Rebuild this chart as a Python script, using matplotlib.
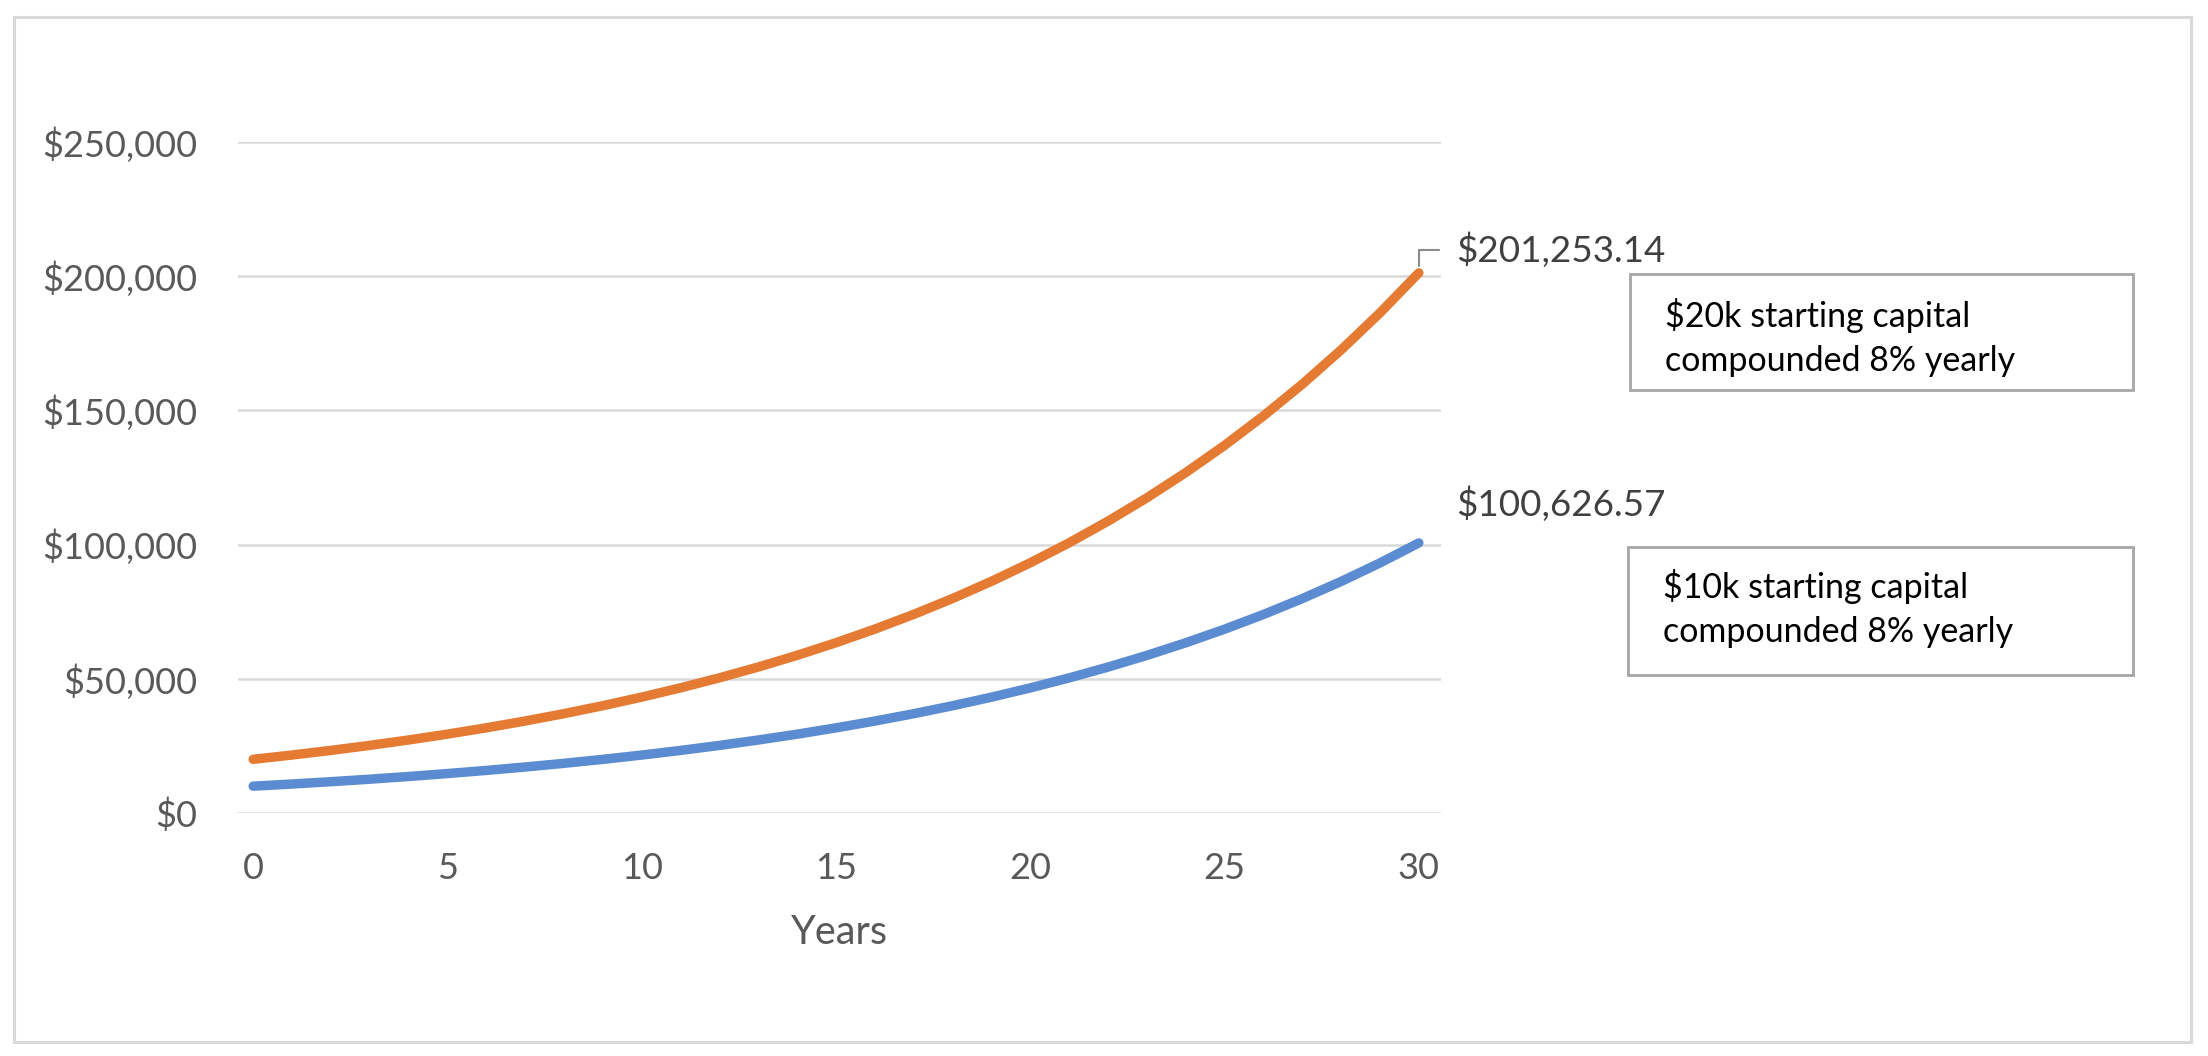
import matplotlib.pyplot as plt
from matplotlib.patches import Rectangle
from matplotlib.ticker import FuncFormatter

# years on the x axis
years = list(range(0, 31))

# $10k start, 8% a year
capital_10k = [10000, 10800, 11664, 12597, 13605, 14693, 15869, 17138, 18509, 19990,
               21589, 23316, 25182, 27196, 29372, 31722, 34259, 37000, 39960, 43157,
               46610, 50338, 54365, 58715, 63412, 68485, 73964, 79881, 86271, 93173,
               100626.57]

# $20k start, 8% a year
capital_20k = [20000, 21600, 23328, 25194, 27210, 29387, 31737, 34276, 37019, 39980,
               43178, 46633, 50363, 54392, 58744, 63443, 68519, 74000, 79920, 86314,
               93219, 100677, 108731, 117429, 126824, 136970, 147927, 159761, 172542, 186346,
               201253.14]

box_texts = ['$20k starting capital\ncompounded 8% yearly',
             '$10k starting capital\ncompounded 8% yearly']

W, H = 2208, 1056
plt.rcParams['font.family'] = ['Lato', 'DejaVu Sans']

fig = plt.figure(figsize=(W / 100, H / 100), dpi=100)

def fx(x):
    return x / W

def fy(y):
    return 1 - y / H

# plot area
ax = fig.add_axes([fx(238), fy(813), fx(1441) - fx(238), fy(142) - fy(813)])

orange = '#E57A32'
blue = '#5B8BD0'
ax.plot(years, capital_20k, color=orange, linewidth=6.8, solid_capstyle='round', zorder=3)
ax.plot(years, capital_10k, color=blue, linewidth=6.8, solid_capstyle='round', zorder=3)

ax.set_xlim(-0.39, 30.57)
ax.set_ylim(0, 250000)
ax.set_xticks([0, 5, 10, 15, 20, 25, 30])
ax.set_yticks([0, 50000, 100000, 150000, 200000, 250000])
ax.yaxis.set_major_formatter(FuncFormatter(lambda v, p: f'${v:,.0f}'))

ax.grid(axis='y', color='#D9D9D9', linewidth=1.8)
ax.set_axisbelow(True)
for s in ax.spines.values():
    s.set_visible(False)
ax.tick_params(length=0, labelsize=26, labelcolor='#595959')
ax.tick_params(axis='y', pad=29)
ax.tick_params(axis='x', pad=28)

# axis title
ax.set_xlabel('Years', fontsize=28.5, color='#595959', va='center')
ax.xaxis.set_label_coords(0.5, (813 - 932) / (813 - 142))

# value labels at the end of each line
ax.annotate(f'${capital_20k[-1]:,.2f}', xy=(years[-1], capital_20k[-1]),
            xytext=(37, 23), textcoords='offset pixels', ha='left', va='center',
            fontsize=26.5, color='#404040',
            arrowprops=dict(arrowstyle='-', color='#8C8C8C', linewidth=1.5,
                            connectionstyle='angle,angleA=0,angleB=90,rad=0',
                            relpos=(0, 0.5), shrinkA=10, shrinkB=5))
ax.annotate(f'${capital_10k[-1]:,.2f}', xy=(years[-1], capital_10k[-1]),
            xytext=(37, 39), textcoords='offset pixels', ha='left', va='center',
            fontsize=26.5, color='#404040')

# text boxes on the right
boxes = [(1630, 274, 2133, 390, 327), (1628, 547, 2133, 675, 598)]
for (x0, y0, x1, y1, base), txt in zip(boxes, box_texts):
    fig.patches.append(Rectangle((fx(x0), fy(y1)), fx(x1) - fx(x0), fy(y0) - fy(y1),
                                 transform=fig.transFigure, facecolor='white',
                                 edgecolor='#A6A6A6', linewidth=2))
    lines = txt.split('\n')
    fig.text(fx(x0 + 35), fy(base), lines[0], fontsize=24.5, color='black', va='baseline')
    fig.text(fx(x0 + 35), fy(base + 44), lines[1], fontsize=24.5, color='black', va='baseline')

# outer chart border
fig.patches.append(Rectangle((fx(14), fy(1042)), fx(2191) - fx(14), fy(17) - fy(1042),
                             transform=fig.transFigure, fill=False,
                             edgecolor='#D9D9D9', linewidth=2.2))

plt.savefig('out.png', dpi=100)
